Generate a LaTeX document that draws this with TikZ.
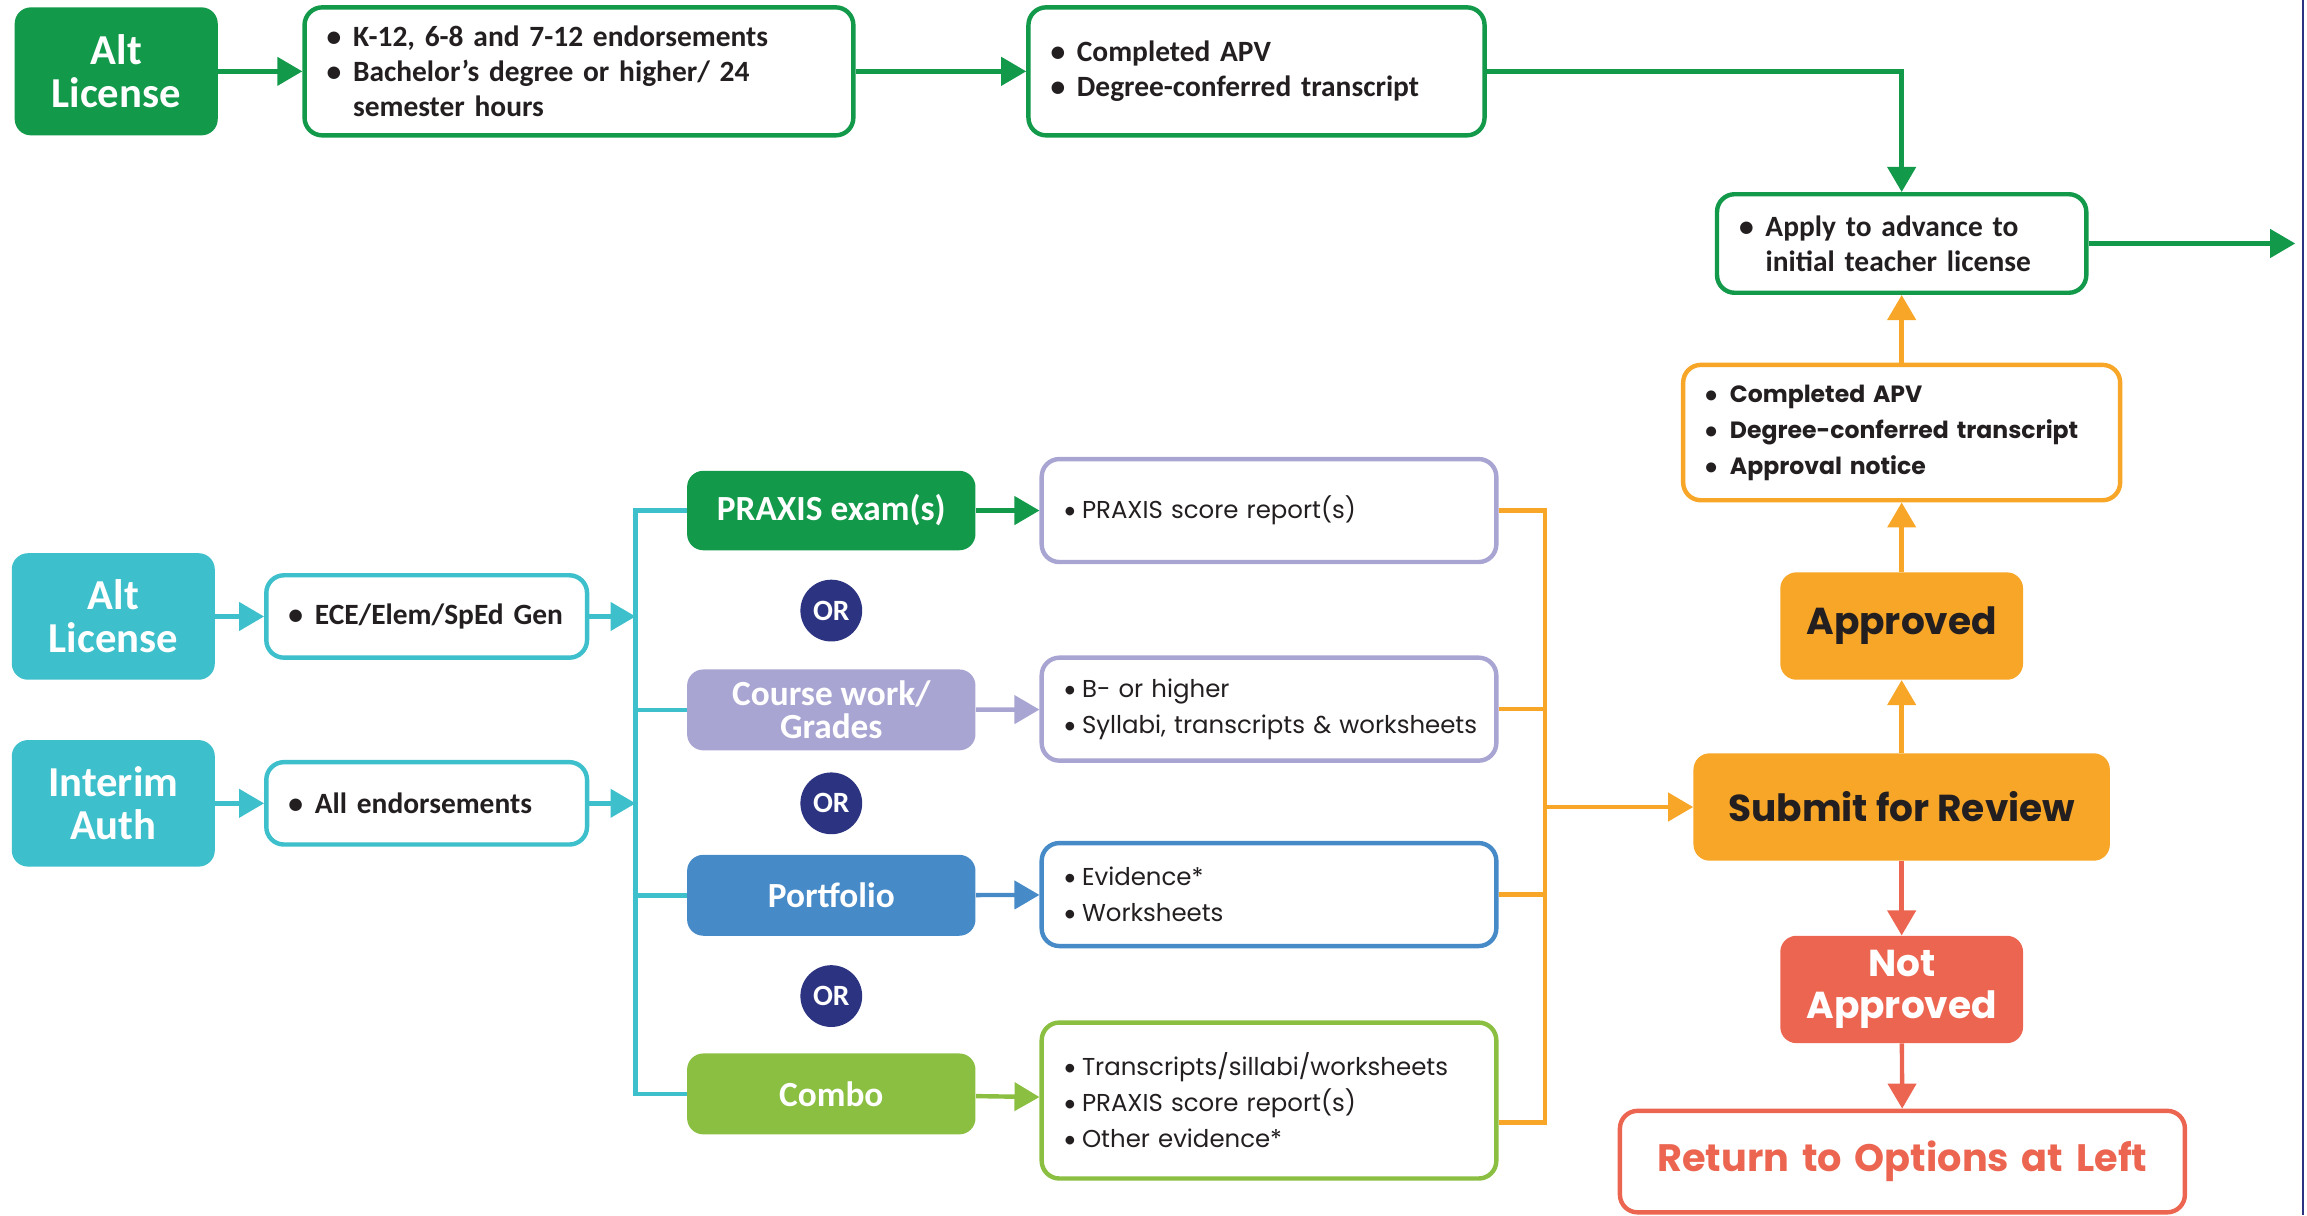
\documentclass[tikz,border=0pt]{standalone}
\usepackage{fontspec}
\setmainfont{Carlito}
\newfontfamily\gothic{Poppins}
\usetikzlibrary{arrows.meta}

\definecolor{cgreen}{RGB}{18,153,74}
\definecolor{ccyan}{RGB}{61,192,203}
\definecolor{clav}{RGB}{169,165,211}
\definecolor{cblue}{RGB}{71,138,200}
\definecolor{clime}{RGB}{138,191,66}
\definecolor{cnavy}{RGB}{44,52,130}
\definecolor{corange}{RGB}{247,166,40}
\definecolor{cred}{RGB}{236,101,81}
\definecolor{ctext}{RGB}{35,31,32}

\newcommand{\bul}{\textbullet\hspace{0.4em}}
\newcommand{\gbul}{{\rmfamily\textbullet}\hspace{0.25em}}

\begin{document}
\begin{tikzpicture}[
    x=1pt, y=-1pt,
    fillbox/.style={
        rounded corners=11pt,
        align=center,
        text=white,
        inner sep=0pt
    },
    listbox/.style={
        draw,
        line width=3pt,
        fill=white,
        rounded corners=12pt,
        align=left,
        inner xsep=15pt,
        inner ysep=0pt,
        text=ctext
    },
    bigtxt/.style={font=\bfseries\fontsize{29}{29}\selectfont},
    midtxt/.style={font=\bfseries\fontsize{24}{22}\selectfont},
    lsttxt/.style={font=\bfseries\fontsize{20}{24}\selectfont},
    glsttxt/.style={font=\gothic\fontsize{16.6}{24.5}\selectfont},
    gboldtxt/.style={font=\gothic\bfseries\fontsize{16}{24.5}\selectfont},
    gbigtxt/.style={font=\gothic\bfseries\fontsize{25.5}{29}\selectfont},
    orbadge/.style={
        circle,
        fill=cnavy,
        minimum size=42pt,
        inner sep=0pt,
        text=white,
        font=\bfseries\fontsize{20}{20}\selectfont
    },
    link/.style={line width=3pt, -{Triangle[length=17pt,width=19pt]}},
    bus/.style={line width=3pt}
]
\useasboundingbox (0,0) rectangle (1568,826);

% 노드 (상단)
\node[fillbox, bigtxt, fill=cgreen, minimum width=138pt, minimum height=87pt] (altTop) at (79,48.5) {Alt\\License};
\node[listbox, lsttxt, draw=cgreen, text width=343pt, minimum height=87pt] (req) at (393.5,48.5)
    {\bul K-12, 6-8 and 7-12 endorsements\\\bul Bachelor’s degree or higher/ 24\\\phantom{\bul}semester hours};
\node[listbox, lsttxt, draw=cgreen, text width=280pt, minimum height=87pt] (docTop) at (854,48.5)
    {\bul Completed APV\\\bul Degree-conferred transcript};
\node[listbox, lsttxt, draw=cgreen, text width=221pt, minimum height=67pt] (apply) at (1292.5,165.5)
    {\bul Apply to advance to\\\phantom{\bul}initial teacher license};
\coordinate (exitR) at (1560,165.5);

% 노드 (왼쪽)
\node[fillbox, bigtxt, fill=ccyan, minimum width=138pt, minimum height=86pt] (altLic) at (77,419) {Alt\\License};
\node[fillbox, bigtxt, fill=ccyan, minimum width=138pt, minimum height=86pt] (interim) at (77,546) {Interim\\Auth};
\node[listbox, lsttxt, draw=ccyan, text width=188pt, minimum height=56pt] (ece) at (290,419) {\bul ECE/Elem/SpEd Gen};
\node[listbox, lsttxt, draw=ccyan, text width=188pt, minimum height=56pt] (allEnd) at (290,546) {\bul All endorsements};

% 노드 (선택지)
\node[fillbox, midtxt, fill=cgreen, minimum width=196pt, minimum height=54pt] (praxis) at (565,347) {PRAXIS exam(s)};
\node[fillbox, midtxt, fill=clav, minimum width=196pt, minimum height=55pt] (course) at (565,482.5) {Course work/\\Grades};
\node[fillbox, midtxt, fill=cblue, minimum width=196pt, minimum height=55pt] (portfolio) at (565,608.5) {Portfolio};
\node[fillbox, midtxt, fill=clime, minimum width=196pt, minimum height=55pt] (combo) at (565,743.5) {Combo};
\node[orbadge] (or1) at (565,415) {OR};
\node[orbadge] (or2) at (565,546) {OR};
\node[orbadge] (or3) at (565,677) {OR};

\node[listbox, glsttxt, draw=clav, text width=279pt, minimum height=70pt] (score) at (862.5,347) {\gbul PRAXIS score report(s)};
\node[listbox, glsttxt, draw=clav, text width=279pt, minimum height=70pt] (grades) at (862.5,482)
    {\gbul B- or higher\\\mbox{\gbul Syllabi, transcripts \& worksheets}};
\node[listbox, glsttxt, draw=cblue, text width=279pt, minimum height=70pt] (evid) at (862.5,608)
    {\gbul Evidence*\\\gbul Worksheets};
\node[listbox, glsttxt, draw=clime, text width=279pt, minimum height=106pt] (mixed) at (862.5,748)
    {\gbul Transcripts/sillabi/worksheets\\\gbul PRAXIS score report(s)\\\gbul Other evidence*};

% 노드 (오른쪽)
\node[listbox, gboldtxt, draw=corange, text width=267pt, minimum height=92pt] (apv) at (1292.5,294)
    {\gbul\hspace{0.3em}Completed APV\\\gbul\hspace{0.3em}Degree-conferred transcript\\\gbul\hspace{0.3em}Approval notice};
\node[fillbox, gbigtxt, fill=corange, text=ctext, minimum width=165pt, minimum height=73pt] (approved) at (1292.5,425.5) {Approved};
\node[fillbox, gbigtxt, fill=corange, text=ctext, minimum width=283pt, minimum height=73pt] (submit) at (1292.5,548.5) {Submit for Review};
\node[fillbox, gbigtxt, fill=cred, minimum width=165pt, minimum height=73pt] (notApp) at (1292.5,672.5) {Not\\Approved};
\node[listbox, gbigtxt, font=\gothic\bfseries\fontsize{26}{29}\selectfont, draw=cred, text=cred, align=center, text width=354pt, minimum height=69pt] (ret) at (1293,789.5)
    {Return to Options at Left};

\coordinate (cbus) at (432,0);
\coordinate (obus) at (1050,0);

% 간선 (상단)
\draw[link, cgreen] (altTop) -- (req);
\draw[link, cgreen] (req) -- (docTop);
\draw[link, cgreen] (docTop.east) -| (apply.north);
\draw[link, cgreen] (apply.east) -- (exitR);

% 간선 (왼쪽)
\draw[link, ccyan] (altLic) -- (ece);
\draw[link, ccyan] (interim) -- (allEnd);
\draw[link, ccyan] (ece.east) -- (ece.east -| cbus);
\draw[link, ccyan] (allEnd.east) -- (allEnd.east -| cbus);
\draw[bus, ccyan] (praxis.west) -- (praxis.west -| cbus) -- (combo.west -| cbus) -- (combo.west);
\draw[bus, ccyan] (course.west -| cbus) -- (course.west);
\draw[bus, ccyan] (portfolio.west -| cbus) -- (portfolio.west);

% 간선 (선택지)
\draw[link, cgreen] (praxis) -- (score);
\draw[link, clav] (course) -- (grades);
\draw[link, cblue] (portfolio) -- (evid);
\draw[link, clime] (combo) -- (mixed);
\draw[bus, corange] (score.east) -- (score.east -| obus) -- ([yshift=-15pt]mixed.east -| obus) -- ([yshift=-15pt]mixed.east);
\draw[bus, corange] (grades.east) -- (grades.east -| obus);
\draw[bus, corange] (evid.east) -- (evid.east -| obus);
\draw[link, corange] (submit.west -| obus) -- (submit.west);

% 간선 (오른쪽)
\draw[link, corange] (submit) -- (approved);
\draw[link, corange] (approved) -- (apv);
\draw[link, corange] (apv) -- (apply);
\draw[link, cred] (submit) -- (notApp);
\draw[link, cred] (notApp) -- (ret);

% 테두리
\draw[cnavy, line width=1.5pt] (1565,0) -- (1565,826);

\end{tikzpicture}
\end{document}
